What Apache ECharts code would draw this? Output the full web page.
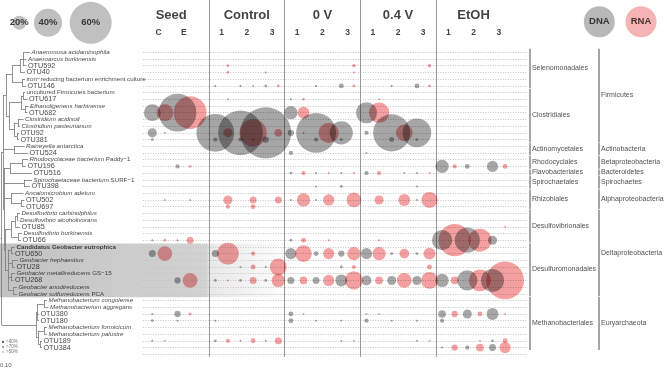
<!DOCTYPE html>
<html>
<head>
<meta charset="utf-8">
<script src="https://cdn.jsdelivr.net/npm/echarts@6/dist/echarts.min.js"></script>
<style>html,body{margin:0;padding:0;background:#fff}#chart{width:667px;height:369px}</style>
</head>
<body>
<div id="chart"></div>
<script>
// one row per tree tip; "|" splits an italic name from a plain strain suffix
const taxa = [
  'Anaeromusa acidaminophila', 'Anaeroarcus burkinensis', 'OTU592', 'OTU40',
  'iron\u2212reducing bacterium enrichment culture', 'OTU146', 'uncultured Firmicutes bacterium', 'OTU617',
  'Ethanoligenens harbinense', 'OTU682', 'Clostridium acidisoli', 'Clostridium pasteurianum',
  'OTU92', 'OTU381', 'Raineyella antarctica', 'OTU524',
  'Rhodocyclaceae bacterium|Paddy\u22121', 'OTU196', 'OTU516', 'Spirochaetaceae bacterium|SURF\u22121',
  'OTU398', 'Ancalomicrobium adetum', 'OTU502', 'OTU697',
  'Desulfovibrio carbinolphilus', 'Desulfovibrio alcoholivorans', 'OTU85', 'Desulfovibrio burkinensis',
  'OTU66', 'Candidatus Geobacter eutrophica', 'OTU650', 'Geobacter hephaestius',
  'OTU28', 'Geobacter metallireducens|GS\u221215', 'OTU268', 'Geobacter anodireducens',
  'Geobacter sulfurreducens|PCA', 'Methanobacterium congolense', 'Methanobacterium aggregans', 'OTU380',
  'OTU180', 'Methanobacterium formicicum', 'Methanobacterium palustre', 'OTU189', 'OTU384'
];
const plainNames = ['iron\u2212reducing bacterium enrichment culture', 'uncultured Firmicutes bacterium'];
const boldNames = ['Candidatus Geobacter eutrophica'];

// tip depth of each taxon (branch length, tree units)
const tipX = [30, 26.5, 26.5, 25, 25, 26, 25, 27.5, 28.5, 27.5, 23.5, 20, 19, 19, 24.5,
  28, 28, 26, 32, 32, 30, 23.5, 24.5, 24.5, 20, 18.5, 20, 22, 21, 15, 13.5, 18, 15, 15,
  13.5, 17, 17, 47, 48.5, 39, 39, 47, 47, 42, 42];

function N(x, ...c) { return { x, c }; }
const tree = N(1.5,
  N(3,
    N(6,
      N(12, N(20, N(23, 0, 1, 2), 3), N(22, 4, 5)),
      N(9, N(21, N(23, 6, 7), N(25, 8, 9)), N(14, N(18, 10, 11), N(17, 12, 13)))
    ),
    N(14, 14, 15),
    N(4,
      N(10, N(22, 16, 17), 18),
      N(24, 19, 20),
      N(11, 21, N(21, 22, 23)),
      N(5,
        N(11, N(15, N(17, 24, 25), 26), N(18, 27, 28)),
        N(8, N(11, 29, 30), N(12, 31, 32), N(11, 33, 34), N(13, 35, 36))
      )
    )
  ),
  N(36, N(37.5, N(44, 37, 38), 39, 40), N(38, N(44, 41, 42), N(40, 43, 44)))
);

const groups = ['Seed', 'Control', '0 V', '0.4 V', 'EtOH'];
const sampleLabels = ['C', 'E', '1', '2', '3', '1', '2', '3', '1', '2', '3', '1', '2', '3'];
const sampleGroup = [0, 0, 1, 1, 1, 2, 2, 2, 3, 3, 3, 4, 4, 4];

// relative abundance (%), OTUs in tree order, samples in the order above
const dnaValues = [
  [0, 0, 0, 0, 0, 0, 0, 0, 0, 0, 0, 0, 0, 0],      // OTU592
  [0, 0, 0, 0, 3, 0, 0, 0, 0, 0, 0, 0, 0, 0],      // OTU40
  [0, 0, 3, 3, 4, 0, 3, 7, 0, 3, 7, 0, 0, 0],      // OTU146
  [0, 0, 0, 0, 0, 3, 0, 0, 0, 0, 0, 0, 0, 0],      // OTU617
  [24, 54, 0, 0, 0, 19, 0, 0, 30, 0, 0, 0, 0, 0],  // OTU682
  [13, 0, 54, 64, 73, 9, 57, 33, 6, 53, 41, 0, 0, 0], // OTU92
  [4, 0, 6, 6, 9, 0, 6, 4, 0, 7, 4, 0, 0, 0],      // OTU381
  [0, 0, 0, 0, 0, 6, 0, 0, 3, 0, 0, 0, 0, 0],      // OTU524
  [0, 6, 0, 0, 0, 0, 0, 0, 0, 0, 0, 19, 7, 16],    // OTU196
  [0, 0, 0, 0, 0, 4, 3, 3, 6, 0, 3, 0, 0, 0],      // OTU516
  [0, 0, 0, 0, 0, 0, 3, 4, 0, 0, 3, 0, 0, 0],      // OTU398
  [0, 0, 0, 0, 0, 3, 3, 0, 0, 0, 3, 0, 0, 0],      // OTU502
  [0, 0, 0, 0, 0, 0, 0, 0, 0, 0, 0, 0, 0, 0],      // OTU697
  [0, 0, 0, 0, 0, 0, 0, 0, 0, 0, 0, 0, 0, 0],      // OTU85
  [3, 3, 0, 0, 0, 4, 0, 0, 0, 0, 0, 29, 36, 13],   // OTU66
  [10, 0, 10, 0, 0, 16, 7, 9, 16, 4, 4, 0, 0, 0],  // OTU650
  [0, 0, 0, 3, 3, 0, 0, 4, 0, 0, 0, 0, 0, 0],      // OTU28
  [0, 9, 4, 4, 4, 10, 10, 17, 14, 13, 13, 19, 29, 33], // OTU268
  [3, 9, 0, 0, 0, 7, 0, 0, 3, 0, 0, 11, 13, 17],   // OTU380
  [4, 3, 3, 0, 0, 7, 3, 3, 6, 3, 3, 6, 0, 0],      // OTU180
  [3, 0, 4, 3, 3, 0, 0, 3, 0, 0, 3, 0, 0, 4],      // OTU189
  [0, 0, 0, 0, 0, 0, 0, 0, 0, 0, 0, 3, 6, 10]      // OTU384
];
const rnaValues = [
  [0, 0, 4, 0, 0, 0, 0, 5, 0, 0, 5, 0, 0, 0],      // OTU592
  [0, 0, 4, 0, 0, 0, 0, 3, 0, 0, 0, 0, 0, 0],      // OTU40
  [0, 0, 0, 3, 4, 0, 0, 4, 0, 0, 4, 0, 0, 0],      // OTU146
  [0, 0, 3, 0, 0, 4, 0, 0, 3, 0, 0, 0, 0, 0],      // OTU617
  [24, 47, 0, 0, 0, 17, 0, 0, 29, 0, 0, 0, 0, 0],  // OTU682
  [3, 0, 13, 39, 11, 3, 29, 0, 0, 24, 0, 0, 0, 0], // OTU92
  [0, 0, 0, 4, 0, 0, 0, 0, 0, 0, 0, 0, 0, 0],      // OTU381
  [0, 0, 0, 0, 0, 0, 0, 0, 0, 0, 0, 0, 0, 0],      // OTU524
  [0, 4, 0, 0, 0, 0, 0, 0, 0, 0, 0, 6, 0, 7],      // OTU196
  [0, 0, 0, 0, 0, 6, 3, 3, 6, 3, 3, 0, 0, 0],      // OTU516
  [0, 0, 0, 0, 0, 0, 0, 0, 0, 0, 0, 0, 0, 0],      // OTU398
  [3, 3, 13, 10, 10, 19, 16, 21, 13, 17, 23, 0, 0, 0], // OTU502
  [0, 0, 6, 7, 0, 0, 0, 0, 0, 0, 0, 0, 0, 0],      // OTU697
  [0, 0, 0, 0, 0, 0, 0, 0, 0, 0, 0, 0, 0, 3],      // OTU85
  [4, 10, 0, 0, 0, 7, 3, 0, 3, 0, 0, 46, 33, 0],   // OTU66
  [21, 0, 31, 6, 0, 24, 16, 19, 19, 14, 17, 0, 0, 0], // OTU650
  [0, 0, 0, 7, 24, 0, 0, 6, 0, 0, 7, 0, 0, 0],     // OTU28
  [0, 21, 3, 10, 19, 11, 16, 26, 11, 21, 24, 11, 31, 54], // OTU268
  [0, 4, 0, 0, 0, 3, 0, 0, 3, 0, 0, 9, 7, 3],      // OTU380
  [0, 0, 0, 0, 0, 0, 0, 0, 0, 0, 0, 0, 0, 0],      // OTU180
  [3, 0, 6, 7, 10, 0, 0, 3, 0, 0, 3, 0, 3, 7],     // OTU189
  [0, 0, 0, 0, 0, 0, 0, 0, 0, 0, 0, 9, 11, 16]     // OTU384
];

const orders = [
  ['Selenomonadales', 0, 5], ['Clostridiales', 6, 13], ['Actinomycetales', 14, 15],
  ['Rhodocyclales', 16, 17], ['Flavobacteriales', 18, 18], ['Spirochaetales', 19, 20],
  ['Rhizobiales', 21, 23], ['Desulfovibrionales', 24, 28], ['Desulfuromonadales', 29, 36],
  ['Methanobacteriales', 37, 44]
];
const phyla = [
  ['Firmicutes', 0, 13], ['Actinobacteria', 14, 15], ['Betaproteobacteria', 16, 17],
  ['Bacteroidetes', 18, 18], ['Spirochaetes', 19, 20], ['Alphaproteobacteria', 21, 23],
  ['Deltaproteobacteria', 24, 36], ['Euryarchaeota', 37, 44]
];
const sizeLegend = [20, 40, 60];
const supportLegend = ['>90%', '>70%', '>50%'];

const FONT = '"Liberation Sans", Arial, sans-serif';
const DNA_COLOR = '#a6a6a6';
const RNA_COLOR = '#f4a0a0';
const toSize = p => p * 0.7;
const colOf = (s, rna) => 2 * s + (s >= 2 ? 1 : 0) + (rna ? 1 : 0);

const otuRows = taxa.map((t, i) => t.startsWith('OTU') ? i : -1).filter(i => i >= 0);
const dnaData = [], rnaData = [];
otuRows.forEach((row, k) => {
  sampleLabels.forEach((s, j) => {
    if (dnaValues[k][j] > 0) dnaData.push([colOf(j, false), row, dnaValues[k][j]]);
    if (rnaValues[k][j] > 0) rnaData.push([colOf(j, true), row, rnaValues[k][j]]);
  });
});

// tree segments
const treeSegs = [];
function place(node) {
  if (typeof node === 'number') return { x: tipX[node], y: node };
  const kids = node.c.map(place);
  const y0 = kids[0].y, y1 = kids[kids.length - 1].y;
  treeSegs.push({ coords: [[node.x, y0], [node.x, y1]] });
  kids.forEach(k => treeSegs.push({ coords: [[node.x, k.y], [k.x, k.y]] }));
  return { x: node.x, y: (y0 + y1) / 2 };
}
const rootPos = place(tree);
treeSegs.push({ coords: [[0.5, rootPos.y], [rootPos.x, rootPos.y]] });

function taxonLabel(name) {
  if (name.startsWith('OTU')) return '{o|' + name + '}';
  if (plainNames.includes(name)) return '{n|' + name + '}';
  if (boldNames.includes(name)) return '{b|' + name + '}';
  const parts = name.split('|');
  return '{i|' + parts[0] + '}' + (parts[1] ? '{n| ' + parts[1] + '}' : '');
}

const rowLines = [];
for (let r = 0; r <= 45; r++) rowLines.push({ coords: [[-0.75, r], [29.75, r]] });
const sepLines = [4.5, 10.5, 16.5, 22.5].map(x => ({ coords: [[x, -7.8], [x, 45.4]] }));
const orderX = 29.97, phylumX = 35.45;
const bracketLines = orders.map(o => ({ coords: [[orderX, o[1] - 0.55], [orderX, o[2] + 0.35]] }))
  .concat(phyla.map(o => ({ coords: [[phylumX, o[1] - 0.55], [phylumX, o[2] + 0.35]] })));

const groupHeads = groups.map((g, gi) => {
  const cols = [];
  sampleGroup.forEach((sg, j) => { if (sg === gi) cols.push(colOf(j, false), colOf(j, true)); });
  return { name: g, value: [(Math.min(...cols) + Math.max(...cols)) / 2, -5.55] };
});
const sampleHeads = sampleLabels.map((s, j) => ({ name: s, value: [colOf(j, false) + 0.5, -2.9] }));

const chart = echarts.init(document.getElementById('chart'));
const txt = { fontFamily: FONT, color: '#111' };

chart.setOption({
  animation: false,
  grid: [
    { left: 0, top: 0, width: 142.85, height: 369 },
    { left: 142.85, top: 0, right: 0, height: 369 }
  ],
  xAxis: [
    { gridIndex: 0, type: 'value', min: 0, max: 142.85, show: false },
    { gridIndex: 1, type: 'value', min: -0.75, max: 40.85, show: false }
  ],
  yAxis: [
    { gridIndex: 0, type: 'value', inverse: true, min: -7.8, max: 47.2, show: false },
    { gridIndex: 1, type: 'value', inverse: true, min: -7.8, max: 47.2, show: false }
  ],
  series: [
    {
      type: 'lines', coordinateSystem: 'cartesian2d', xAxisIndex: 1, yAxisIndex: 1, silent: true,
      lineStyle: { color: '#c4c4c4', width: 1, type: [1, 1.5], opacity: 1 }, data: rowLines, z: 1
    },
    {
      type: 'lines', coordinateSystem: 'cartesian2d', xAxisIndex: 1, yAxisIndex: 1, silent: true,
      lineStyle: { color: '#999', width: 1, opacity: 1 }, data: sepLines, z: 1
    },
    {
      type: 'lines', coordinateSystem: 'cartesian2d', xAxisIndex: 1, yAxisIndex: 1, silent: true,
      lineStyle: { color: '#888', width: 1.5, opacity: 1 }, data: bracketLines
    },
    {
      type: 'lines', coordinateSystem: 'cartesian2d', xAxisIndex: 0, yAxisIndex: 0, silent: true,
      lineStyle: { color: '#777', width: 0.8, opacity: 1 }, data: treeSegs
    },
    {
      name: 'DNA', type: 'scatter', xAxisIndex: 1, yAxisIndex: 1, data: dnaData,
      symbolSize: v => toSize(v[2]), itemStyle: { color: DNA_COLOR, opacity: 1 }, blendMode: 'multiply', z: 3
    },
    {
      name: 'RNA', type: 'scatter', xAxisIndex: 1, yAxisIndex: 1, data: rnaData,
      symbolSize: v => toSize(v[2]), itemStyle: { color: RNA_COLOR, opacity: 1 }, blendMode: 'multiply', z: 4
    },
    // taxa labels
    {
      type: 'scatter', xAxisIndex: 0, yAxisIndex: 0, symbolSize: 0, silent: true,
      data: taxa.map((t, i) => ({ name: t, value: [tipX[i] + 0.5, i] })),
      label: {
        show: true, position: 'right', distance: 1, formatter: p => taxonLabel(p.name),
        rich: {
          o: Object.assign({ fontSize: 7.2 }, txt),
          i: Object.assign({ fontSize: 6.2, fontStyle: 'italic' }, txt),
          n: Object.assign({ fontSize: 6.2 }, txt),
          b: Object.assign({ fontSize: 6.2, fontWeight: 'bold' }, txt)
        }
      }
    },
    // column headers
    {
      type: 'scatter', xAxisIndex: 1, yAxisIndex: 1, symbolSize: 0, silent: true, data: groupHeads,
      label: Object.assign({ show: true, position: 'inside', formatter: p => p.name, fontSize: 13, fontWeight: 'bold' }, txt)
    },
    {
      type: 'scatter', xAxisIndex: 1, yAxisIndex: 1, symbolSize: 0, silent: true, data: sampleHeads,
      label: Object.assign({ show: true, position: 'inside', formatter: p => p.name, fontSize: 8.5, fontWeight: 'bold' }, txt)
    },
    // order / phylum labels
    {
      type: 'scatter', xAxisIndex: 1, yAxisIndex: 1, symbolSize: 0, silent: true,
      data: orders.map(o => ({ name: o[0], value: [orderX, (o[1] + o[2]) / 2 - 0.15] }))
        .concat(phyla.map(o => ({ name: o[0], value: [phylumX, (o[1] + o[2]) / 2 - 0.15] }))),
      label: Object.assign({ show: true, position: 'right', distance: 2, formatter: p => p.name, fontSize: 7 }, txt, { color: '#222' })
    },
    // DNA / RNA key
    {
      type: 'scatter', xAxisIndex: 1, yAxisIndex: 1, symbolSize: 31, silent: true,
      data: [
        { name: 'DNA', value: [35.48, -4.56], itemStyle: { color: DNA_COLOR } },
        { name: 'RNA', value: [38.79, -4.56], itemStyle: { color: RNA_COLOR } }
      ],
      label: Object.assign({ show: true, position: 'inside', formatter: p => p.name, fontSize: 9.5, fontWeight: 'bold' }, txt)
    },
    // size key
    {
      type: 'scatter', xAxisIndex: 0, yAxisIndex: 0, silent: true,
      data: sizeLegend.map((p, i) => ({ name: p + '%', value: [[19.3, 48, 90.7][i], -4.4, p] })),
      symbolSize: v => toSize(v[2]), itemStyle: { color: '#b0b0b0' },
      label: Object.assign({ show: true, position: 'inside', formatter: p => p.name, fontSize: 9.5, fontWeight: 'bold' }, txt)
    },
    // bootstrap key
    {
      type: 'scatter', xAxisIndex: 0, yAxisIndex: 0, silent: true, symbolSize: 2.2,
      data: supportLegend.map((s, i) => ({
        name: s, value: [3, 43.17 + 0.75 * i],
        itemStyle: { color: ['#222', '#777', '#bbb'][i] }
      })),
      label: Object.assign({ show: true, position: 'right', distance: 2, formatter: p => p.name, fontSize: 4.5 }, txt, { color: '#555' })
    },
    {
      type: 'scatter', xAxisIndex: 0, yAxisIndex: 0, silent: true, symbolSize: 0,
      data: [{ name: '0.10', value: [0, 46.7] }],
      label: Object.assign({ show: true, position: 'right', distance: 0, formatter: p => p.name, fontSize: 6 }, txt, { color: '#333' })
    }
  ]
});

// highlighted Geobacter clade band
const bandTop = chart.convertToPixel({ yAxisIndex: 0 }, 28.5);
const bandBot = chart.convertToPixel({ yAxisIndex: 0 }, 36.5);
chart.setOption({
  graphic: [{
    type: 'rect', z: 0, silent: true,
    shape: { x: 0, y: bandTop, width: 295, height: bandBot - bandTop },
    style: {
      fill: new echarts.graphic.LinearGradient(0, 0, 1, 0, [
        { offset: 0, color: '#c2c2c2' },
        { offset: 0.7, color: '#d2d2d2' },
        { offset: 0.71, color: '#e8e8e8' },
        { offset: 1, color: '#ffffff' }
      ])
    }
  }]
});
</script>
</body>
</html>
